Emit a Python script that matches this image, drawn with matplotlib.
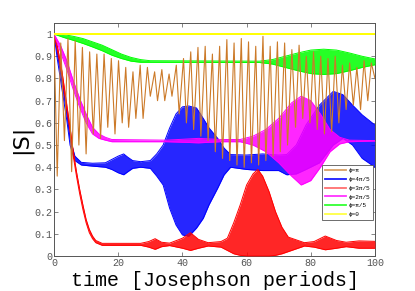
import matplotlib
matplotlib.use("Agg")
import matplotlib.pyplot as plt
from matplotlib.lines import Line2D
import numpy as np

# ---------------- data ----------------
labels = ["ϕ=π", "ϕ=4π/5", "ϕ=3π/5", "ϕ=2π/5", "ϕ=π/5", "ϕ=0"]
xticks = [0, 20, 40, 60, 80, 100]
yticks = [0, 0.1, 0.2, 0.3, 0.4, 0.5, 0.6, 0.7, 0.8, 0.9, 1.0]
ytick_labels = ["0", "0.1", "0.2", "0.3", "0.4", "0.5", "0.6", "0.7", "0.8", "0.9", "1"]

# phi = pi : individual oscillation extrema (time, |S|)
orange_t = [0.0, 1.0, 2.1, 3.25, 4.35, 5.5, 6.6, 7.75, 8.85, 10.0, 11.1, 12.25, 13.35, 14.5,
            15.6, 16.75, 17.85, 19.0, 20.1, 21.25, 22.35, 23.25, 24.6, 25.5, 26.85, 27.75,
            29.1, 30.0, 31.35, 32.25, 33.6, 34.5, 35.85, 36.75, 38.1, 39.0, 40.35, 41.25,
            42.6, 43.5, 44.85, 45.75, 47.1, 48.0, 49.35, 50.25, 51.6, 52.5, 53.85, 54.75,
            56.1, 57.0, 58.35, 59.25, 60.6, 61.5, 62.85, 63.75, 65.1, 66.0, 67.35, 68.25,
            69.6, 70.5, 71.85, 72.75, 74.1, 75.25, 76.35, 77.5, 78.6, 79.75, 80.85, 82.0,
            83.1, 84.25, 85.35, 86.5, 87.6, 88.75, 89.85, 91.0, 92.1, 93.25, 94.35, 95.5,
            96.6, 97.75, 98.85, 100.0]
orange_v = [1.0, 0.36, 0.96, 0.52, 0.98, 0.38, 0.97, 0.50, 0.94, 0.46, 0.92, 0.55, 0.91, 0.53,
            0.91, 0.58, 0.89, 0.55, 0.88, 0.60, 0.85, 0.58, 0.83, 0.62, 0.86, 0.62,
            0.85, 0.72, 0.83, 0.70, 0.84, 0.70, 0.82, 0.72, 0.86, 0.64, 0.89, 0.60,
            0.92, 0.57, 0.94, 0.54, 0.945, 0.52, 0.91, 0.47, 0.945, 0.44, 0.975, 0.43,
            0.96, 0.41, 0.98, 0.40, 0.965, 0.42, 0.945, 0.41, 0.99, 0.43, 0.945, 0.45,
            0.965, 0.47, 0.96, 0.50, 0.93, 0.58, 0.95, 0.62, 0.90, 0.60, 0.92, 0.57,
            0.90, 0.55, 0.89, 0.56, 0.90, 0.60, 0.86, 0.66, 0.87, 0.68, 0.85, 0.66,
            0.88, 0.70, 0.87, 0.80]

# phi = 4pi/5 : envelope of the fast oscillation
blue_t = [0, 1, 2.5, 4, 5, 6.5, 8.5, 12, 16, 18, 20, 21.7, 23, 24.5, 27, 30, 32, 34, 36, 38,
          40, 42, 44.4, 46.5, 48.3, 51, 53, 55, 60, 65, 70, 72.5, 75.5, 78.5, 82.7, 87, 90, 93, 96, 100]
blue_up = [1.0, 0.92, 0.79, 0.65, 0.53, 0.45, 0.422, 0.418, 0.42, 0.435, 0.45, 0.46, 0.445, 0.43,
           0.425, 0.43, 0.46, 0.5, 0.576, 0.64, 0.672, 0.676, 0.667, 0.62, 0.577, 0.53, 0.486,
           0.457, 0.455, 0.46, 0.455, 0.457, 0.5, 0.59, 0.68, 0.742, 0.727, 0.68, 0.636, 0.59]
blue_lo = [1.0, 0.89, 0.75, 0.61, 0.5, 0.43, 0.41, 0.405, 0.4, 0.39, 0.375, 0.366, 0.38, 0.395,
           0.4, 0.395, 0.36, 0.32, 0.216, 0.14, 0.095, 0.089, 0.126, 0.17, 0.231, 0.306, 0.366,
           0.40, 0.39, 0.385, 0.385, 0.366, 0.37, 0.39, 0.42, 0.50, 0.53, 0.50, 0.44, 0.40]

# phi = 3pi/5
red_t = [0, 1, 2.5, 4, 5, 6, 7, 8, 9, 10, 11, 12, 13, 15, 27, 29.5, 31.5, 33.5, 36, 40,
         42.5, 45, 48, 52, 54, 56, 58, 60, 62, 63.5, 65, 67, 69, 71, 73, 75, 78, 81, 84.5, 88,
         91, 95, 100]
red_up = [1.0, 0.95, 0.83, 0.68, 0.58, 0.47, 0.38, 0.30, 0.23, 0.165, 0.12, 0.09, 0.07, 0.057,
          0.057, 0.065, 0.078, 0.062, 0.058, 0.08, 0.105, 0.075, 0.06, 0.065, 0.08, 0.15, 0.23,
          0.32, 0.37, 0.39, 0.36, 0.29, 0.2, 0.13, 0.085, 0.075, 0.06, 0.065, 0.09, 0.07,
          0.062, 0.068, 0.066]
red_lo = [1.0, 0.93, 0.81, 0.66, 0.56, 0.45, 0.36, 0.28, 0.21, 0.15, 0.105, 0.078, 0.06, 0.048,
          0.048, 0.04, 0.03, 0.042, 0.047, 0.035, 0.025, 0.035, 0.045, 0.04, 0.025, 0.01, 0.003,
          0.0, 0.0, 0.0, 0.0, 0.0, 0.003, 0.01, 0.02, 0.03, 0.045, 0.04, 0.028, 0.035,
          0.042, 0.035, 0.035]

# phi = 2pi/5
mag_t = [0, 2, 4, 6, 8, 10, 12, 14, 16, 18, 35, 45, 52, 58, 62, 66, 70, 74, 77, 80, 83, 86, 89, 92, 100]
mag_up = [1.0, 0.95, 0.88, 0.79, 0.71, 0.64, 0.58, 0.55, 0.535, 0.525, 0.522, 0.53, 0.525, 0.525,
          0.54, 0.57, 0.62, 0.69, 0.72, 0.70, 0.64, 0.57, 0.535, 0.522, 0.52]
mag_lo = [1.0, 0.92, 0.84, 0.75, 0.67, 0.60, 0.55, 0.53, 0.522, 0.515, 0.515, 0.51, 0.515, 0.515,
          0.50, 0.47, 0.42, 0.36, 0.32, 0.34, 0.40, 0.47, 0.505, 0.515, 0.518]

# phi = pi/5
green_t = [0, 3, 6, 9, 12, 15, 18, 21, 24, 27, 30, 64, 68, 72, 76, 80, 84, 88, 92, 96, 100]
green_up = [1.0, 0.998, 0.99, 0.98, 0.965, 0.95, 0.93, 0.91, 0.895, 0.885, 0.88, 0.878, 0.885,
            0.9, 0.915, 0.928, 0.932, 0.928, 0.915, 0.9, 0.888]
green_lo = [1.0, 0.985, 0.972, 0.958, 0.942, 0.925, 0.905, 0.89, 0.878, 0.873, 0.873, 0.872,
            0.865, 0.85, 0.835, 0.822, 0.818, 0.822, 0.835, 0.85, 0.862]

# phi = 0
yellow_t = [0, 100]
yellow_v = [1.0, 1.0]

# ---------------- styling ----------------
c_orange = "#cc7a29"
c_blue = "#0000ff"
c_red = "#ff0000"
c_mag = "#ff00ff"
c_green = "#00ff00"
c_yellow = "#ffff00"

fig = plt.figure(figsize=(4.15, 2.91), dpi=100)
fig.patch.set_facecolor("white")
ax = fig.add_axes([54 / 415, 1 - 256 / 291, 321 / 415, 233 / 291])


def band(t, lo, up, color, z):
    ax.fill_between(t, lo, up, color=color, lw=0, alpha=0.85, zorder=z)
    ax.plot(t, up, color=color, lw=0.7, zorder=z)
    ax.plot(t, lo, color=color, lw=0.7, zorder=z)


band(blue_t, blue_lo, blue_up, c_blue, 2)
band(red_t, red_lo, red_up, c_red, 3)
band(mag_t, mag_lo, mag_up, c_mag, 4)
band(green_t, green_lo, green_up, c_green, 5)
ax.plot(orange_t, orange_v, color=c_orange, lw=0.8, zorder=6)
ax.plot(yellow_t, yellow_v, color=c_yellow, lw=1.4, zorder=7)

ax.set_xlim(0, 100)
ax.set_ylim(0, 1.05)
ax.set_xticks(xticks)
ax.set_yticks(yticks)
ax.set_yticklabels(ytick_labels)

mono = "Liberation Mono"
for lab in ax.get_xticklabels() + ax.get_yticklabels():
    lab.set_fontfamily(mono)
ax.tick_params(direction="in", length=3, width=0.5, top=True, right=True,
               labelsize=7.2, pad=1.5, colors="#555555")
for s in ax.spines.values():
    s.set_color("#555555")
    s.set_linewidth(0.7)

ax.set_xlabel("time [Josephson periods]", fontsize=14.4, family=mono, labelpad=2)
ax.set_ylabel("|S|", fontsize=16, labelpad=1.5)

handles = [Line2D([], [], color=c, lw=1.3) for c in
           ["#d9a066", "#1a1aff", "#ff7070", "#ff33ff", "#33ff33", "#ffff44"]]
leg = ax.legend(handles, labels, loc="upper right", bbox_to_anchor=(0.995, 0.39),
                prop={"family": mono, "size": 4.3}, frameon=True, fancybox=False,
                edgecolor="#555555", framealpha=1, borderpad=0.5, labelspacing=0.6,
                handlelength=3.6, handletextpad=0.4, borderaxespad=0)
leg.get_frame().set_linewidth(0.6)
leg.set_zorder(10)

fig.savefig("out.png", dpi=100, facecolor="white")
